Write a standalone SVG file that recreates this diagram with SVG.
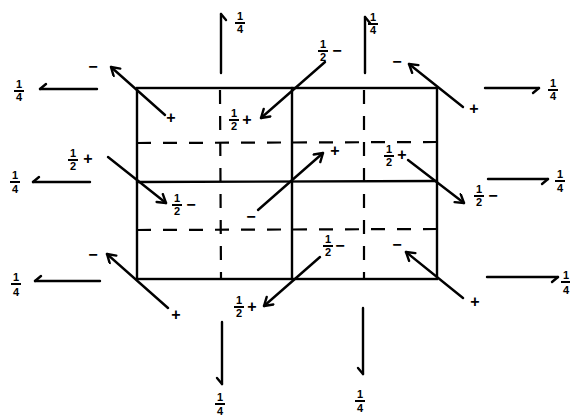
<svg xmlns="http://www.w3.org/2000/svg" width="570" height="417" viewBox="0 0 570 417">
<style>
.s{stroke:#000;stroke-width:2.4;fill:none;stroke-linecap:round}
.d{stroke:#000;stroke-width:2.2;fill:none;stroke-dasharray:14 12}
.a{stroke:#000;stroke-width:2.4;fill:none;stroke-linecap:round;marker-end:url(#ah)}
.h{stroke:#000;stroke-width:2.4;fill:none;stroke-linecap:round;marker-end:url(#hh)}
.n{font-family:"Liberation Sans",Arial,sans-serif;font-size:11px;font-weight:bold;text-anchor:middle;fill:#000}
.g{font-family:"Liberation Sans",Arial,sans-serif;font-size:16px;font-weight:bold;text-anchor:middle;fill:#000}
.fb{stroke:#000;stroke-width:2;fill:none}
</style>
<defs>
<marker id="ah" markerWidth="14" markerHeight="14" refX="10" refY="6" orient="auto" markerUnits="userSpaceOnUse">
<path d="M2,1 L10,6 L2,11" fill="none" stroke="#000" stroke-width="2.4" stroke-linecap="round" stroke-linejoin="round"/>
</marker>
<marker id="hh" markerWidth="14" markerHeight="14" refX="10" refY="3" orient="auto" markerUnits="userSpaceOnUse">
<path d="M10,3 L4,8" fill="none" stroke="#000" stroke-width="2.4" stroke-linecap="round" stroke-linejoin="round"/>
</marker>
</defs>

<g id="grid">
<rect class="s" x="137" y="88" width="300" height="191"/>
<line class="s" x1="137" y1="182" x2="437" y2="181"/>
<line class="s" x1="292" y1="88" x2="292" y2="279"/>
<line class="d" x1="137" y1="143" x2="437" y2="142"/>
<line class="d" x1="137" y1="230" x2="437" y2="229"/>
<line class="d" x1="220" y1="90" x2="221" y2="279"/>
<line class="d" x1="364" y1="90" x2="364" y2="279"/>
</g>

<g id="connectors">
<line class="h" x1="97" y1="89" x2="40" y2="89"/>
<line class="h" x1="90" y1="182" x2="33" y2="182"/>
<line class="h" x1="100" y1="281" x2="35" y2="281"/>
<line class="h" x1="485" y1="88" x2="539" y2="88"/>
<line class="h" x1="488" y1="179" x2="548" y2="179"/>
<line class="h" x1="487" y1="277" x2="558" y2="277"/>
<line class="h" x1="221" y1="73" x2="221" y2="14"/>
<line class="h" x1="365" y1="73" x2="365" y2="17"/>
<line class="h" x1="222" y1="322" x2="222" y2="384"/>
<line class="h" x1="363" y1="308" x2="363" y2="374"/>
<line class="a" x1="165" y1="115" x2="111" y2="67"/>
<line class="a" x1="325" y1="62" x2="261" y2="118"/>
<line class="a" x1="463" y1="107" x2="409" y2="64"/>
<line class="a" x1="108" y1="157" x2="166" y2="203"/>
<line class="a" x1="258" y1="210" x2="323" y2="153"/>
<line class="a" x1="408" y1="160" x2="464" y2="203"/>
<line class="a" x1="168" y1="308" x2="107" y2="254"/>
<line class="a" x1="320" y1="257" x2="264" y2="306"/>
<line class="a" x1="463" y1="298" x2="406" y2="252"/>
</g>

<g id="labels">
<text class="n" x="19" y="88">1</text><line class="fb" x1="14" y1="91" x2="24" y2="91"/><text class="n" x="19" y="101">4</text>
<text class="n" x="15" y="179">1</text><line class="fb" x1="10" y1="182" x2="20" y2="182"/><text class="n" x="15" y="193">4</text>
<text class="n" x="16" y="281">1</text><line class="fb" x1="11" y1="284" x2="21" y2="284"/><text class="n" x="16" y="296">4</text>
<text class="n" x="553" y="87">1</text><line class="fb" x1="548" y1="90" x2="558" y2="90"/><text class="n" x="553" y="100">4</text>
<text class="n" x="560" y="178">1</text><line class="fb" x1="555" y1="181" x2="565" y2="181"/><text class="n" x="560" y="192">4</text>
<text class="n" x="566" y="279">1</text><line class="fb" x1="561" y1="282" x2="571" y2="282"/><text class="n" x="566" y="294">4</text>
<text class="n" x="240" y="20">1</text><line class="fb" x1="235" y1="23" x2="245" y2="23"/><text class="n" x="240" y="33">4</text>
<text class="n" x="373" y="21">1</text><line class="fb" x1="368" y1="24" x2="378" y2="24"/><text class="n" x="373" y="34">4</text>
<text class="n" x="220" y="401">1</text><line class="fb" x1="215" y1="404" x2="225" y2="404"/><text class="n" x="220" y="415">4</text>
<text class="n" x="360" y="398">1</text><line class="fb" x1="355" y1="401" x2="365" y2="401"/><text class="n" x="360" y="412">4</text>

<text class="n" x="323" y="48">1</text><line class="fb" x1="318" y1="51" x2="328" y2="51"/><text class="n" x="323" y="61">2</text><text class="g" x="337" y="56">−</text>
<text class="n" x="234" y="117">1</text><line class="fb" x1="229" y1="120" x2="239" y2="120"/><text class="n" x="234" y="130">2</text><text class="g" x="247" y="125">+</text>
<text class="n" x="73" y="157">1</text><line class="fb" x1="68" y1="160" x2="78" y2="160"/><text class="n" x="73" y="170">2</text><text class="g" x="88" y="164">+</text>
<text class="n" x="177" y="202">1</text><line class="fb" x1="172" y1="205" x2="182" y2="205"/><text class="n" x="177" y="215">2</text><text class="g" x="191" y="210">−</text>
<text class="n" x="389" y="153">1</text><line class="fb" x1="384" y1="156" x2="394" y2="156"/><text class="n" x="389" y="166">2</text><text class="g" x="402" y="160">+</text>
<text class="n" x="479" y="193">1</text><line class="fb" x1="474" y1="196" x2="484" y2="196"/><text class="n" x="479" y="206">2</text><text class="g" x="493" y="201">−</text>
<text class="n" x="328" y="243">1</text><line class="fb" x1="323" y1="246" x2="333" y2="246"/><text class="n" x="328" y="256">2</text><text class="g" x="340" y="251">−</text>
<text class="n" x="239" y="304">1</text><line class="fb" x1="234" y1="307" x2="244" y2="307"/><text class="n" x="239" y="317">2</text><text class="g" x="252" y="312">+</text>

<text class="g" x="93" y="72">−</text>
<text class="g" x="171" y="123">+</text>
<text class="g" x="397" y="67">−</text>
<text class="g" x="474" y="114">+</text>
<text class="g" x="251" y="222">−</text>
<text class="g" x="335" y="156">+</text>
<text class="g" x="93" y="260">−</text>
<text class="g" x="176" y="320">+</text>
<text class="g" x="397" y="250">−</text>
<text class="g" x="475" y="307">+</text>
</g>
</svg>
